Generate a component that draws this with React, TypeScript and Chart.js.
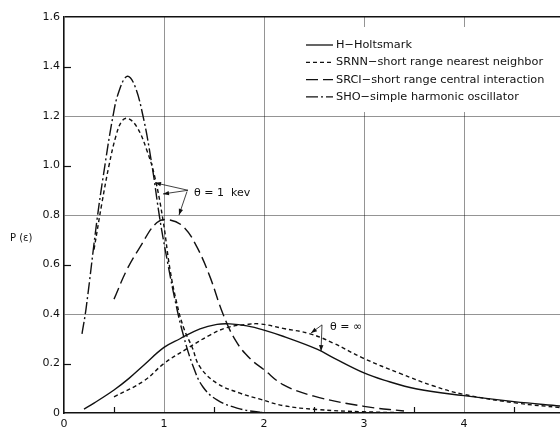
import { useEffect, useRef } from "react";
import { Chart, registerables } from "chart.js";

Chart.register(...registerables);

// ---- axes / ticks ----
const xTickValues = [0, 1, 2, 3, 4];
const xMinorTicks = [0.5, 1.5, 2.5, 3.5, 4.5];
const xGridValues = [1, 2, 3, 4];
const yTickValues = [0, 0.2, 0.4, 0.6, 0.8, 1.0, 1.2, 1.4, 1.6];
const yMinorTicks = [0.2, 0.6, 1.0, 1.4];
const yGridValues = [0.4, 0.8, 1.2];
const xMax = 4.96;
const yMax = 1.6;

// ---- series ----
// H - Holtsmark (solid)
const holtsmarkX = [0.2, 0.3, 0.5, 0.65, 0.8, 1.0, 1.16, 1.36, 1.53, 1.66, 1.83, 2.0, 2.19, 2.53, 2.7, 3.0, 3.2, 3.53, 4.0, 4.5, 4.96];
const holtsmarkY = [0.016, 0.04, 0.093, 0.14, 0.194, 0.265, 0.3, 0.34, 0.358, 0.36, 0.352, 0.335, 0.31, 0.258, 0.222, 0.162, 0.133, 0.097, 0.07, 0.046, 0.028];

// SRNN theta = infinity (short dash, broad)
const srnnInfX = [0.5, 0.8, 1.0, 1.23, 1.46, 1.63, 1.83, 1.96, 2.19, 2.46, 2.69, 3.0, 3.36, 3.69, 4.0, 4.53, 4.96];
const srnnInfY = [0.065, 0.13, 0.2, 0.26, 0.315, 0.345, 0.358, 0.36, 0.342, 0.32, 0.283, 0.22, 0.16, 0.11, 0.075, 0.04, 0.022];

// SRNN theta = 1 kev (short dash, narrow)
const srnn1X = [0.3, 0.38, 0.45, 0.52, 0.58, 0.64, 0.73, 0.83, 0.91, 0.99, 1.06, 1.13, 1.2, 1.28, 1.36, 1.53, 1.76, 1.96, 2.19, 2.53, 3.0, 3.5];
const srnn1Y = [0.66, 0.85, 1.0, 1.12, 1.18, 1.19, 1.155, 1.06, 0.95, 0.78, 0.58, 0.44, 0.34, 0.267, 0.186, 0.12, 0.08, 0.056, 0.03, 0.014, 0.005, 0.0];

// SRCI theta = 1 kev (long dash)
const srci1X = [0.5, 0.63, 0.76, 0.93, 1.06, 1.2, 1.33, 1.46, 1.59, 1.72, 1.86, 2.0, 2.19, 2.5, 3.0, 3.4];
const srci1Y = [0.46, 0.58, 0.67, 0.77, 0.78, 0.75, 0.67, 0.55, 0.4, 0.29, 0.22, 0.175, 0.115, 0.068, 0.027, 0.008];

// SHO theta = 1 kev (dash-dot)
const sho1X = [0.18, 0.22, 0.33, 0.39, 0.49, 0.55, 0.63, 0.7, 0.79, 0.88, 0.96, 1.04, 1.11, 1.19, 1.29, 1.39, 1.53, 1.73, 1.96, 2.2];
const sho1Y = [0.32, 0.42, 0.78, 0.95, 1.2, 1.3, 1.36, 1.33, 1.2, 1.0, 0.78, 0.6, 0.457, 0.32, 0.19, 0.105, 0.053, 0.02, 0.003, 0.0];

// ---- legend ----
const legendLabels = [
  "H\u2212Holtsmark",
  "SRNN\u2212short range nearest neighbor",
  "SRCI\u2212short range central interaction",
  "SHO\u2212simple harmonic oscillator",
];
const dashSolid: number[] = [];
const dashShort = [4, 3];
const dashLong = [12, 5];
const dashDot = [12, 3, 2, 3];
const legendDashes = [dashSolid, dashShort, dashLong, dashDot];

// ---- annotations (data units) ----
const kevText = "\u03B8 = 1  kev";
const kevTextPos = [1.3, 0.89];
const kevOrigin = [1.24, 0.9];
const kevTargets = [
  [0.91, 0.93],
  [0.99, 0.885],
];
const kevOrigin2 = [1.23, 0.895];
const kevTarget2 = [1.15, 0.8];

const infText = "\u03B8 = \u221E";
const infTextPos = [2.66, 0.347];
const infOrigin = [2.58, 0.356];
const infTargets = [
  [2.47, 0.323],
  [2.57, 0.25],
];

const yAxisLabel = "P (\u03B5)";
const yAxisLabelValue = 0.707;

const INK = "#111";
const GRID = "rgba(0,0,0,0.42)";
const FONT = "'DejaVu Sans', sans-serif";

function pts(xs: number[], ys: number[]) {
  return xs.map((x, i) => ({ x, y: ys[i] }));
}

function near(a: number, list: number[]) {
  return list.some((v) => Math.abs(v - a) < 1e-6);
}

function arrow(ctx: CanvasRenderingContext2D, x0: number, y0: number, x1: number, y1: number) {
  ctx.beginPath();
  ctx.moveTo(x0, y0);
  ctx.lineTo(x1, y1);
  ctx.stroke();
  const a = Math.atan2(y1 - y0, x1 - x0);
  const L = 6;
  const w = 2.2;
  ctx.beginPath();
  ctx.moveTo(x1, y1);
  ctx.lineTo(x1 - L * Math.cos(a) + w * Math.sin(a), y1 - L * Math.sin(a) - w * Math.cos(a));
  ctx.lineTo(x1 - L * Math.cos(a) - w * Math.sin(a), y1 - L * Math.sin(a) + w * Math.cos(a));
  ctx.closePath();
  ctx.fill();
}

const decorPlugin = {
  id: "decor",
  beforeDatasetsDraw(chart: any) {
    const { ctx, chartArea, scales } = chart;
    const xs = scales.x;
    const ys = scales.y;
    ctx.save();
    // legend background box (hides grid)
    const left = xs.getPixelForValue(2.28);
    const top = chartArea.top + 10;
    const bottom = ys.getPixelForValue(1.2) - 4;
    ctx.fillStyle = "#fff";
    ctx.fillRect(left, top, chartArea.right - left, bottom - top);
    ctx.restore();
  },
  afterDatasetsDraw(chart: any) {
    const { ctx, chartArea, scales } = chart;
    const xs = scales.x;
    const ys = scales.y;
    ctx.save();
    ctx.strokeStyle = INK;
    ctx.fillStyle = INK;
    ctx.lineWidth = 1.2;
    ctx.setLineDash([]);
    // minor ticks
    for (const v of yMinorTicks) {
      const p = Math.round(ys.getPixelForValue(v)) + 0.5;
      ctx.beginPath();
      ctx.moveTo(chartArea.left, p);
      ctx.lineTo(chartArea.left + 7, p);
      ctx.stroke();
    }
    for (const v of xMinorTicks) {
      const p = Math.round(xs.getPixelForValue(v)) + 0.5;
      ctx.beginPath();
      ctx.moveTo(p, chartArea.bottom);
      ctx.lineTo(p, chartArea.bottom - 6);
      ctx.stroke();
    }

    // legend
    ctx.font = `11.3px ${FONT}`;
    ctx.textBaseline = "middle";
    ctx.textAlign = "left";
    const lx0 = xs.getPixelForValue(2.42);
    const lx1 = lx0 + 27;
    legendLabels.forEach((label, i) => {
      const y = chartArea.top + 28 + i * 17.3;
      ctx.lineWidth = 1.3;
      ctx.setLineDash(legendDashes[i]);
      ctx.beginPath();
      ctx.moveTo(lx0, y);
      ctx.lineTo(lx1, y);
      ctx.stroke();
      ctx.setLineDash([]);
      ctx.fillText(label, lx1 + 3, y);
    });

    // annotations
    ctx.lineWidth = 0.8;
    ctx.setLineDash([]);
    ctx.font = `11px ${FONT}`;
    ctx.fillText(kevText, xs.getPixelForValue(kevTextPos[0]), ys.getPixelForValue(kevTextPos[1]));
    for (const t of kevTargets) {
      arrow(ctx, xs.getPixelForValue(kevOrigin[0]), ys.getPixelForValue(kevOrigin[1]), xs.getPixelForValue(t[0]), ys.getPixelForValue(t[1]));
    }
    arrow(ctx, xs.getPixelForValue(kevOrigin2[0]), ys.getPixelForValue(kevOrigin2[1]), xs.getPixelForValue(kevTarget2[0]), ys.getPixelForValue(kevTarget2[1]));

    ctx.fillText(infText, xs.getPixelForValue(infTextPos[0]), ys.getPixelForValue(infTextPos[1]));
    for (const t of infTargets) {
      arrow(ctx, xs.getPixelForValue(infOrigin[0]), ys.getPixelForValue(infOrigin[1]), xs.getPixelForValue(t[0]), ys.getPixelForValue(t[1]));
    }

    // y axis label
    ctx.font = `10px ${FONT}`;
    ctx.fillText(yAxisLabel, 10, ys.getPixelForValue(yAxisLabelValue));
    ctx.restore();
  },
};

export default function App() {
  const ref = useRef<HTMLCanvasElement | null>(null);

  useEffect(() => {
    if (!ref.current) return;
    const common = {
      borderColor: INK,
      borderWidth: 1.4,
      pointRadius: 0,
      fill: false,
      tension: 0.4,
    };
    const chart = new Chart(ref.current, {
      type: "line",
      data: {
        datasets: [
          { ...common, label: "H-Holtsmark", data: pts(holtsmarkX, holtsmarkY), borderDash: dashSolid },
          { ...common, label: "SRNN θ=∞", data: pts(srnnInfX, srnnInfY), borderDash: dashShort },
          { ...common, label: "SRNN θ=1 kev", data: pts(srnn1X, srnn1Y), borderDash: dashShort },
          { ...common, label: "SRCI θ=1 kev", data: pts(srci1X, srci1Y), borderDash: dashLong },
          { ...common, label: "SHO θ=1 kev", data: pts(sho1X, sho1Y), borderDash: dashDot },
        ],
      },
      options: {
        responsive: false,
        animation: false,
        devicePixelRatio: 1,
        layout: { padding: { left: 0, top: 17, right: 0, bottom: 0 } },
        plugins: { legend: { display: false }, tooltip: { enabled: false } },
        scales: {
          x: {
            type: "linear",
            min: 0,
            max: xMax,
            afterBuildTicks: (s: any) => {
              s.ticks = xTickValues.map((v) => ({ value: v }));
            },
            afterFit: (s: any) => {
              s.height = 25;
            },
            ticks: {
              color: INK,
              font: { family: FONT, size: 11 },
              padding: 5,
              maxRotation: 0,
              callback: (v: any) => String(v),
            },
            grid: {
              drawTicks: false,
              color: (c: any) => (c.tick && near(c.tick.value, xGridValues) ? GRID : "transparent"),
              lineWidth: 1,
            },
            border: { display: true, color: INK, width: 1.6 },
          },
          y: {
            type: "linear",
            min: 0,
            max: yMax,
            afterBuildTicks: (s: any) => {
              s.ticks = yTickValues.map((v) => ({ value: v }));
            },
            afterFit: (s: any) => {
              s.width = 64;
            },
            ticks: {
              color: INK,
              font: { family: FONT, size: 11 },
              padding: 4,
              callback: (v: any) => (Number(v) === 0 ? "0" : Number(v).toFixed(1)),
            },
            grid: {
              drawTicks: false,
              color: (c: any) => {
                if (!c.tick) return "transparent";
                if (Math.abs(c.tick.value - yMax) < 1e-6) return INK;
                return near(c.tick.value, yGridValues) ? GRID : "transparent";
              },
              lineWidth: (c: any) => (c.tick && Math.abs(c.tick.value - yMax) < 1e-6 ? 1.4 : 1),
            },
            border: { display: true, color: INK, width: 1.6 },
          },
        },
      },
      plugins: [decorPlugin],
    });
    return () => chart.destroy();
  }, []);

  return (
    <div style={{ position: "absolute", left: 0, top: 0, width: 560, height: 438, background: "#fff" }}>
      <canvas ref={ref} width={560} height={438} style={{ width: 560, height: 438, display: "block" }} />
    </div>
  );
}
